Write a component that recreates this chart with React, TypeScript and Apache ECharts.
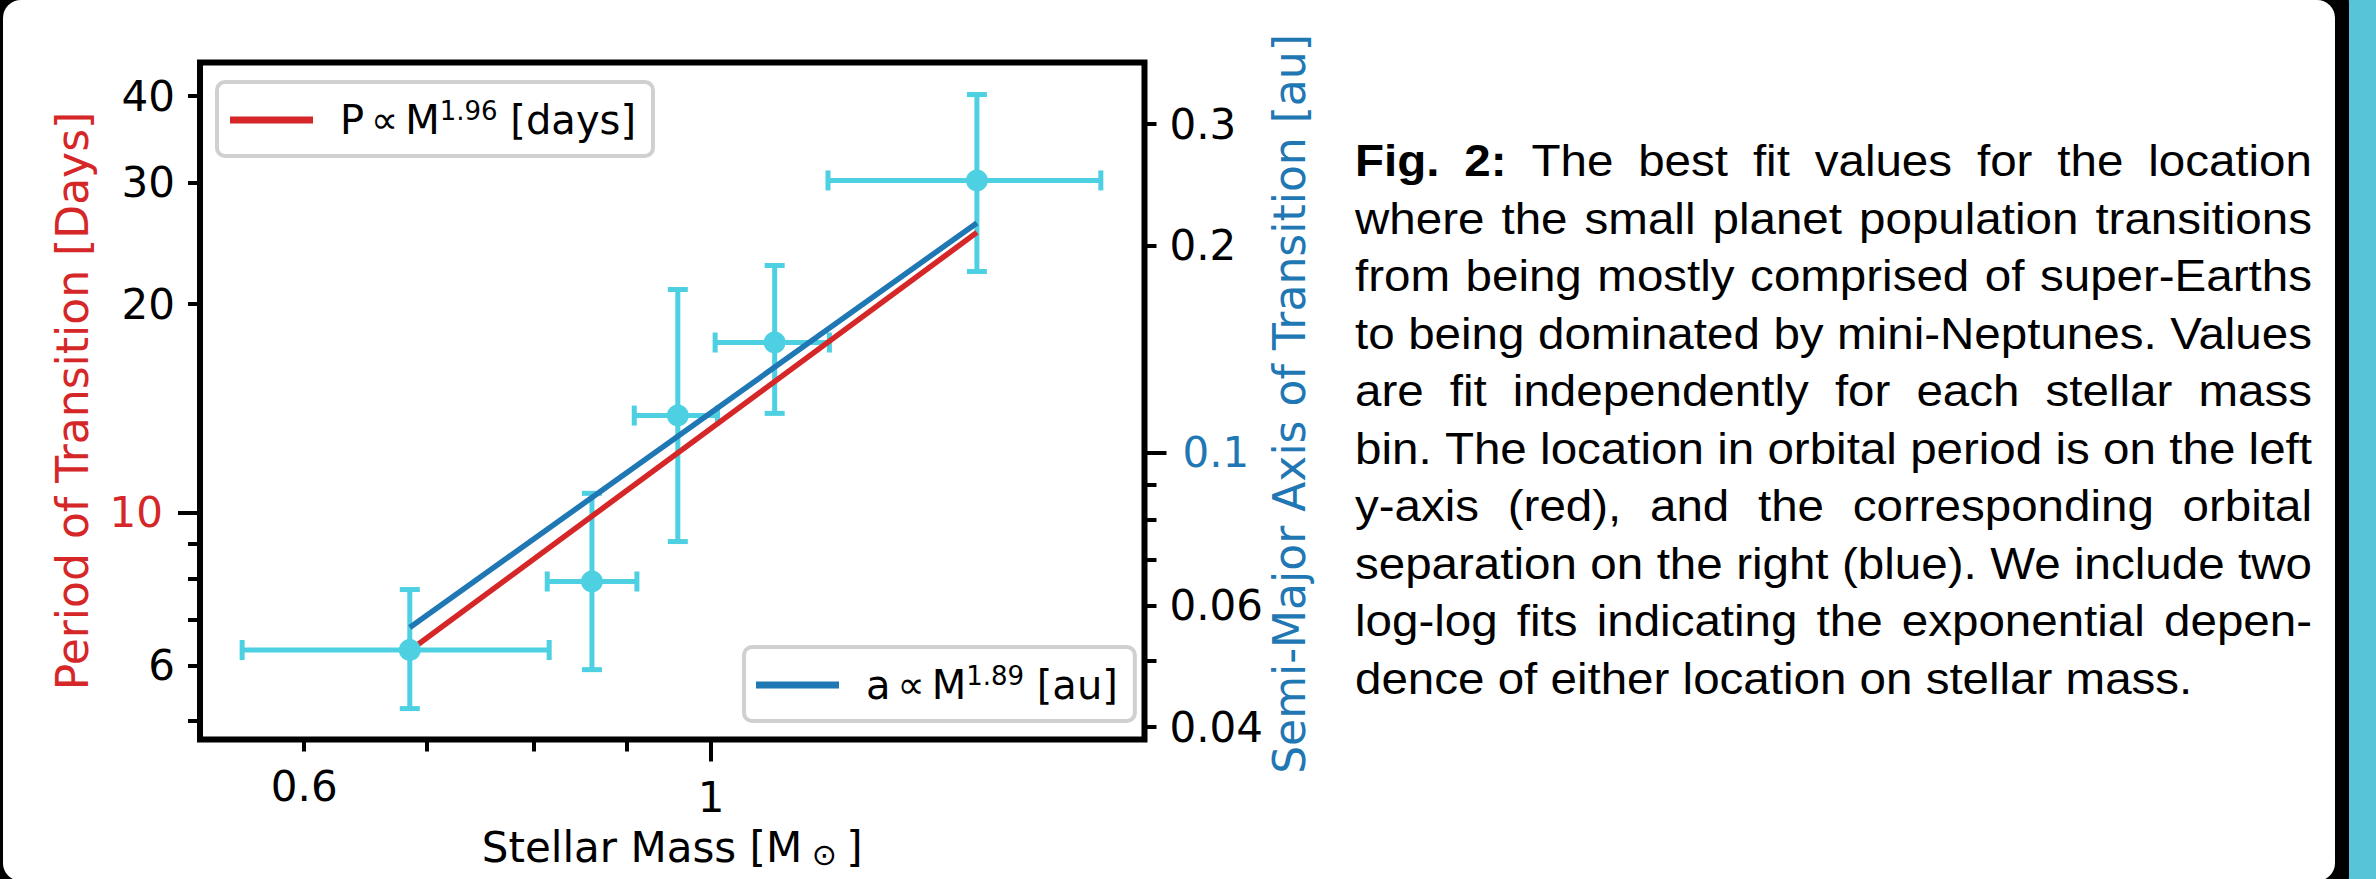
import React, { useEffect, useRef } from 'react';
import * as echarts from 'echarts';

// ---- data ----
const massCenter = [0.685, 0.861, 0.959, 1.083, 1.396];
const massLow = [0.555, 0.814, 0.908, 1.005, 1.158];
const massHigh = [0.816, 0.911, 1.008, 1.16, 1.631];
const periodCenter = [6.32, 7.94, 13.8, 17.6, 30.2];
const periodLow = [5.2, 5.92, 9.07, 13.9, 22.3];
const periodHigh = [7.73, 10.65, 21.0, 22.75, 40.2];

const fitMass = [0.685, 1.396];
const fitPeriod = [6.31, 25.4];
const fitSemiAxis = [0.0558, 0.2157];

const massRange = [0.5264, 1.7229];
const periodRange = [4.691, 44.73];
const semiAxisRange = [0.03837, 0.3687];

const massTicksMinor = [0.6, 0.7, 0.8, 0.9];
const massLabelsMinor = [0.6];
const massTicksMajor = [1];
const periodTicksMinor = [5, 6, 7, 8, 9, 20, 30, 40];
const periodLabelsMinor = [6, 20, 30, 40];
const periodTicksMajor = [10];
const semiTicksMinor = [0.04, 0.05, 0.06, 0.07, 0.08, 0.09, 0.2, 0.3];
const semiLabelsMinor = [0.04, 0.06, 0.2, 0.3];
const semiTicksMajor = [0.1];

const redName = 'P ∝ M1.96 [days]';
const blueName = 'a ∝ M1.89 [au]';

const captionLines = [
  'Fig. 2: The best fit values for the location',
  'where the small planet population transitions',
  'from being mostly comprised of super-Earths',
  'to being dominated by mini-Neptunes. Values',
  'are fit independently for each stellar mass',
  'bin. The location in orbital period is on the left',
  'y-axis (red), and the corresponding orbital',
  'separation on the right (blue). We include two',
  'log-log fits indicating the exponential depen-',
  'dence of either location on stellar mass.',
];

const RED = '#d62728';
const BLUE = '#1f77b4';
const CYAN = '#4dd0e1';
const FONT = 'DejaVu Sans';
const L = Math.log10;

function fmt(v: number) {
  return String(Number(Math.pow(10, v).toPrecision(3)));
}

function tickAxis(pos: string, range: number[], ticks: number[], labels: number[], len: number, margin: number, color: string, extra: any = {}) {
  return {
    type: 'value',
    position: pos,
    min: L(range[0]),
    max: L(range[1]),
    axisLine: { show: false, onZero: false },
    splitLine: { show: false },
    axisTick: { show: true, inside: false, length: len, customValues: ticks.map(L), lineStyle: { color: '#000', width: 4 } },
    axisLabel: { show: true, customValues: labels.map(L), margin, color, fontSize: 42, fontFamily: FONT, formatter: fmt },
    nameMoveOverlap: false,
    ...extra,
  };
}

function buildCaption() {
  const ctx = document.createElement('canvas').getContext('2d')!;
  const size = 44;
  const sx = 1.08;
  const left = 1355;
  const right = 2312;
  const W = right - left;
  const y0 = 161.6;
  const dy = 57.5;
  const els: any[] = [];
  captionLines.forEach((line, i) => {
    const words = line.split(' ');
    const bolds = words.map((_, j) => i === 0 && j < 2);
    const widths = words.map((w, j) => {
      ctx.font = `${bolds[j] ? 'bold ' : ''}${size}px "Liberation Sans"`;
      return ctx.measureText(w).width * sx;
    });
    ctx.font = `${size}px "Liberation Sans"`;
    const spaceW = ctx.measureText(' ').width * sx;
    const total = widths.reduce((a, b) => a + b, 0);
    const justify = i < captionLines.length - 1;
    const gap = justify ? (W - total) / (words.length - 1) : spaceW;
    let x = left;
    words.forEach((w, j) => {
      els.push({
        type: 'text',
        x,
        y: y0 + i * dy,
        scaleX: sx,
        silent: true,
        z: 10,
        style: {
          text: w,
          fontSize: size,
          fontFamily: 'Liberation Sans',
          fontWeight: bolds[j] ? 'bold' : 'normal',
          fill: '#000',
          textAlign: 'left',
          align: 'left',
          textVerticalAlign: 'middle',
          verticalAlign: 'middle',
        },
      });
      x += widths[j] + gap;
    });
  });
  return els;
}

export default function App() {
  const ref = useRef<HTMLDivElement>(null);
  useEffect(() => {
    if (!ref.current) return;
    const chart = echarts.init(ref.current, null, { renderer: 'svg' });
    const errData = massCenter.map((m, i) => [m, periodCenter[i], massLow[i], massHigh[i], periodLow[i], periodHigh[i]]);
    const legendRich = {
      g: { width: 22, fontSize: 40 },
      sp: { width: 7, fontSize: 40 },
      t: { fontSize: 40, fontFamily: FONT, color: '#000', lineHeight: 44 },
      p: { fontSize: 38, fontFamily: FONT, color: '#000', lineHeight: 44 },
      s: { fontSize: 26, fontFamily: FONT, color: '#000', verticalAlign: 'top', lineHeight: 26 },
    };
    const legendFormatter = (name: string) => {
      if (name === redName) return '{g|}{t|P}{sp|}{p|∝}{sp|}{t|M}{s|1.96}{t| [days]}';
      return '{g|}{t|a}{sp|}{p|∝}{sp|}{t|M}{s|1.89}{t| [au]}';
    };
    const legendBase = {
      orient: 'vertical',
      icon: 'rect',
      itemWidth: 83,
      itemHeight: 7,
      borderColor: '#d0d0d0',
      borderWidth: 4,
      borderRadius: 8,
      backgroundColor: '#ffffff',
      selectedMode: false,
      formatter: legendFormatter,
      textStyle: { rich: legendRich, fontFamily: FONT, fontSize: 40, color: '#000' },
    };
    const option: any = {
      animation: false,
      backgroundColor: 'transparent',
      grid: {
        left: 200,
        top: 62.5,
        width: 944.5,
        height: 677,
        show: true,
        borderColor: '#000',
        borderWidth: 6,
        backgroundColor: 'transparent',
        containLabel: false,
        outerBoundsMode: 'none',
      },
      legend: [
        { ...legendBase, data: [redName], left: 217, top: 82, padding: [16, 17, 16, 13] },
        { ...legendBase, data: [blueName], left: 744, top: 647, padding: [16, 17, 16, 12] },
      ],
      xAxis: [
        { type: 'log', logBase: 10, min: massRange[0], max: massRange[1], show: false, axisLine: { onZero: false } },
        tickAxis('bottom', massRange, massTicksMinor, massLabelsMinor, 12, 26, '#000'),
        tickAxis('bottom', massRange, massTicksMajor, massTicksMajor, 22, 37, '#000', {
          name: '{a|Stellar Mass [M}{b| ⊙ }{a|]}',
          nameLocation: 'middle',
          nameGap: 86,
          nameTextStyle: {
            rich: {
              a: { fontSize: 42, fontFamily: FONT, color: '#000', lineHeight: 44 },
              b: { fontSize: 30, fontFamily: FONT, color: '#000', verticalAlign: 'bottom', lineHeight: 30 },
            },
          },
        }),
      ],
      yAxis: [
        { type: 'log', logBase: 10, min: periodRange[0], max: periodRange[1], position: 'left', show: false, axisLine: { onZero: false } },
        { type: 'log', logBase: 10, min: semiAxisRange[0], max: semiAxisRange[1], position: 'right', show: false, axisLine: { onZero: false } },
        tickAxis('left', periodRange, periodTicksMinor, periodLabelsMinor, 12, 25, '#000'),
        tickAxis('left', periodRange, periodTicksMajor, periodTicksMajor, 22, 37, RED, {
          name: 'Period of Transition [Days]',
          nameLocation: 'middle',
          nameGap: 106,
          nameTextStyle: { color: RED, fontSize: 44, fontFamily: FONT },
        }),
        tickAxis('right', semiAxisRange, semiTicksMinor, semiLabelsMinor, 12, 25, '#000'),
        tickAxis('right', semiAxisRange, semiTicksMajor, semiTicksMajor, 22, 38, BLUE, {
          name: 'Semi-Major Axis of Transition [au]',
          nameLocation: 'middle',
          nameGap: 123,
          nameTextStyle: { color: BLUE, fontSize: 44, fontFamily: FONT, padding: [0, 6, 0, 0] },
        }),
      ],
      series: [
        {
          type: 'custom',
          name: 'errors',
          xAxisIndex: 0,
          yAxisIndex: 0,
          z: 2,
          clip: false,
          encode: { x: [0, 2, 3], y: [1, 4, 5] },
          data: errData,
          renderItem: (params: any, api: any) => {
            const xc = api.value(0), yc = api.value(1);
            const c = api.coord([xc, yc]);
            const pxl = api.coord([api.value(2), yc]);
            const pxh = api.coord([api.value(3), yc]);
            const pyl = api.coord([xc, api.value(4)]);
            const pyh = api.coord([xc, api.value(5)]);
            const cap = 10;
            const st = { stroke: CYAN, lineWidth: 5 };
            return {
              type: 'group',
              children: [
                { type: 'line', shape: { x1: pxl[0], y1: c[1], x2: pxh[0], y2: c[1] }, style: st },
                { type: 'line', shape: { x1: c[0], y1: pyl[1], x2: c[0], y2: pyh[1] }, style: st },
                { type: 'line', shape: { x1: pxl[0], y1: c[1] - cap, x2: pxl[0], y2: c[1] + cap }, style: st },
                { type: 'line', shape: { x1: pxh[0], y1: c[1] - cap, x2: pxh[0], y2: c[1] + cap }, style: st },
                { type: 'line', shape: { x1: c[0] - cap, y1: pyl[1], x2: c[0] + cap, y2: pyl[1] }, style: st },
                { type: 'line', shape: { x1: c[0] - cap, y1: pyh[1], x2: c[0] + cap, y2: pyh[1] }, style: st },
              ],
            };
          },
        },
        {
          type: 'line',
          name: redName,
          xAxisIndex: 0,
          yAxisIndex: 0,
          z: 3,
          color: RED,
          itemStyle: { color: RED },
          showSymbol: false,
          symbol: 'none',
          lineStyle: { color: RED, width: 5.5 },
          data: fitMass.map((m, i) => [m, fitPeriod[i]]),
        },
        {
          type: 'line',
          name: blueName,
          xAxisIndex: 0,
          yAxisIndex: 1,
          z: 3,
          color: BLUE,
          itemStyle: { color: BLUE },
          showSymbol: false,
          symbol: 'none',
          lineStyle: { color: BLUE, width: 5.5 },
          data: fitMass.map((m, i) => [m, fitSemiAxis[i]]),
        },
        {
          type: 'scatter',
          name: 'points',
          xAxisIndex: 0,
          yAxisIndex: 0,
          z: 4,
          symbolSize: 22,
          itemStyle: { color: CYAN, opacity: 1 },
          data: massCenter.map((m, i) => [m, periodCenter[i]]),
        },
      ],
      graphic: { elements: buildCaption() },
    };
    chart.setOption(option);
    return () => chart.dispose();
  }, []);

  return (
    <div style={{ position: 'fixed', left: 0, top: 0, width: 2376, height: 879, background: '#58c4d8', overflow: 'hidden' }}>
      <div style={{ position: 'absolute', left: -30, top: -30, width: 2379, height: 939, borderRadius: 34, background: '#000' }} />
      <div style={{ position: 'absolute', left: 3, top: 0, width: 2332, height: 881, borderRadius: 18, background: '#fff' }} />
      <div ref={ref} style={{ position: 'absolute', left: 0, top: 0, width: 2376, height: 879 }} />
    </div>
  );
}
